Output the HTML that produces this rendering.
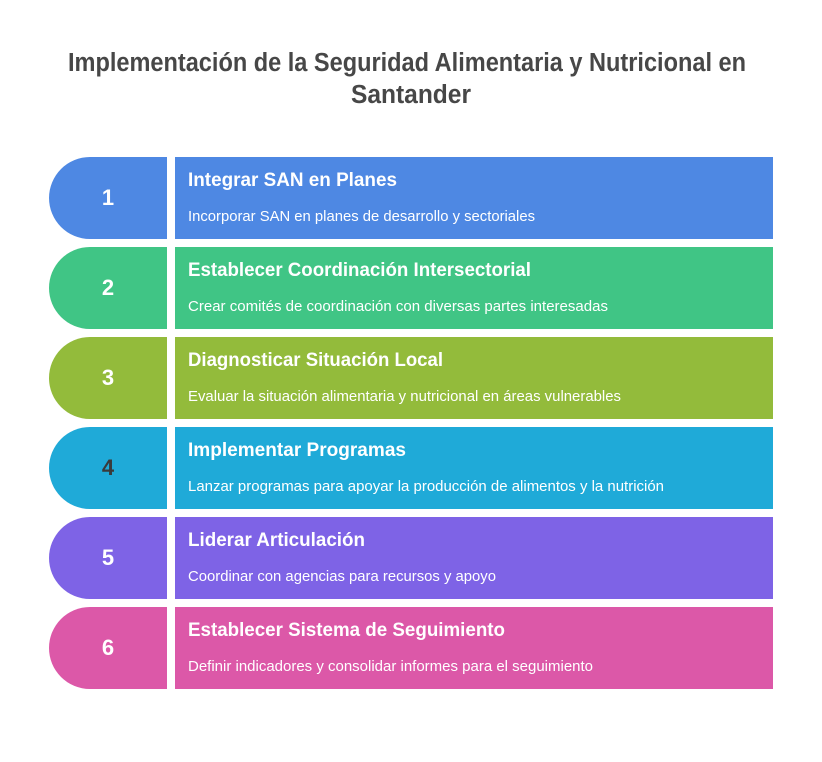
<!DOCTYPE html>
<html>
<head>
<meta charset="utf-8">
<style>
  html, body { margin: 0; padding: 0; background: #ffffff; }
  svg { display: block; }
  text { font-family: "Liberation Sans", Arial, sans-serif; }
</style>
</head>
<body>
<svg width="822" height="762" viewBox="0 0 822 762" xmlns="http://www.w3.org/2000/svg">
  <rect x="0" y="0" width="822" height="762" fill="#ffffff"/>

  <!-- Title -->
  <text x="68" y="71" font-size="25.5" font-weight="bold" fill="#474747" textLength="678" lengthAdjust="spacingAndGlyphs">Implementación de la Seguridad Alimentaria y Nutricional en</text>
  <text x="411" y="103" font-size="25.5" font-weight="bold" fill="#474747" text-anchor="middle" textLength="120" lengthAdjust="spacingAndGlyphs">Santander</text>

  <!-- Row 1 -->
  <path d="M167 157 L90 157 A41 41 0 0 0 90 239 L167 239 Z" fill="#4e88e3"/>
  <rect x="175" y="157" width="598" height="82" fill="#4e88e3"/>
  <text x="108" y="205" font-size="22" font-weight="bold" fill="#ffffff" text-anchor="middle">1</text>
  <text x="188" y="186" font-size="19" font-weight="bold" fill="#ffffff" textLength="209" lengthAdjust="spacingAndGlyphs">Integrar SAN en Planes</text>
  <text x="188" y="221" font-size="15" fill="#ffffff" textLength="347" lengthAdjust="spacingAndGlyphs">Incorporar SAN en planes de desarrollo y sectoriales</text>

  <!-- Row 2 -->
  <path d="M167 247 L90 247 A41 41 0 0 0 90 329 L167 329 Z" fill="#40c585"/>
  <rect x="175" y="247" width="598" height="82" fill="#40c585"/>
  <text x="108" y="295" font-size="22" font-weight="bold" fill="#ffffff" text-anchor="middle">2</text>
  <text x="188" y="276" font-size="19" font-weight="bold" fill="#ffffff" textLength="343" lengthAdjust="spacingAndGlyphs">Establecer Coordinación Intersectorial</text>
  <text x="188" y="311" font-size="15" fill="#ffffff" textLength="420" lengthAdjust="spacingAndGlyphs">Crear comités de coordinación con diversas partes interesadas</text>

  <!-- Row 3 -->
  <path d="M167 337 L90 337 A41 41 0 0 0 90 419 L167 419 Z" fill="#93bb3b"/>
  <rect x="175" y="337" width="598" height="82" fill="#93bb3b"/>
  <text x="108" y="385" font-size="22" font-weight="bold" fill="#ffffff" text-anchor="middle">3</text>
  <text x="188" y="366" font-size="19" font-weight="bold" fill="#ffffff" textLength="255" lengthAdjust="spacingAndGlyphs">Diagnosticar Situación Local</text>
  <text x="188" y="401" font-size="15" fill="#ffffff" textLength="433" lengthAdjust="spacingAndGlyphs">Evaluar la situación alimentaria y nutricional en áreas vulnerables</text>

  <!-- Row 4 -->
  <path d="M167 427 L90 427 A41 41 0 0 0 90 509 L167 509 Z" fill="#1faad8"/>
  <rect x="175" y="427" width="598" height="82" fill="#1faad8"/>
  <text x="108" y="475" font-size="22" font-weight="bold" fill="#3a3a3a" text-anchor="middle">4</text>
  <text x="188" y="456" font-size="19" font-weight="bold" fill="#ffffff" textLength="218" lengthAdjust="spacingAndGlyphs">Implementar Programas</text>
  <text x="188" y="491" font-size="15" fill="#ffffff" textLength="476" lengthAdjust="spacingAndGlyphs">Lanzar programas para apoyar la producción de alimentos y la nutrición</text>

  <!-- Row 5 -->
  <path d="M167 517 L90 517 A41 41 0 0 0 90 599 L167 599 Z" fill="#7e63e6"/>
  <rect x="175" y="517" width="598" height="82" fill="#7e63e6"/>
  <text x="108" y="565" font-size="22" font-weight="bold" fill="#ffffff" text-anchor="middle">5</text>
  <text x="188" y="546" font-size="19" font-weight="bold" fill="#ffffff" textLength="177" lengthAdjust="spacingAndGlyphs">Liderar Articulación</text>
  <text x="188" y="581" font-size="15" fill="#ffffff" textLength="308" lengthAdjust="spacingAndGlyphs">Coordinar con agencias para recursos y apoyo</text>

  <!-- Row 6 -->
  <path d="M167 607 L90 607 A41 41 0 0 0 90 689 L167 689 Z" fill="#dc58a8"/>
  <rect x="175" y="607" width="598" height="82" fill="#dc58a8"/>
  <text x="108" y="655" font-size="22" font-weight="bold" fill="#ffffff" text-anchor="middle">6</text>
  <text x="188" y="636" font-size="19" font-weight="bold" fill="#ffffff" textLength="317" lengthAdjust="spacingAndGlyphs">Establecer Sistema de Seguimiento</text>
  <text x="188" y="671" font-size="15" fill="#ffffff" textLength="405" lengthAdjust="spacingAndGlyphs">Definir indicadores y consolidar informes para el seguimiento</text>
</svg>
</body>
</html>
